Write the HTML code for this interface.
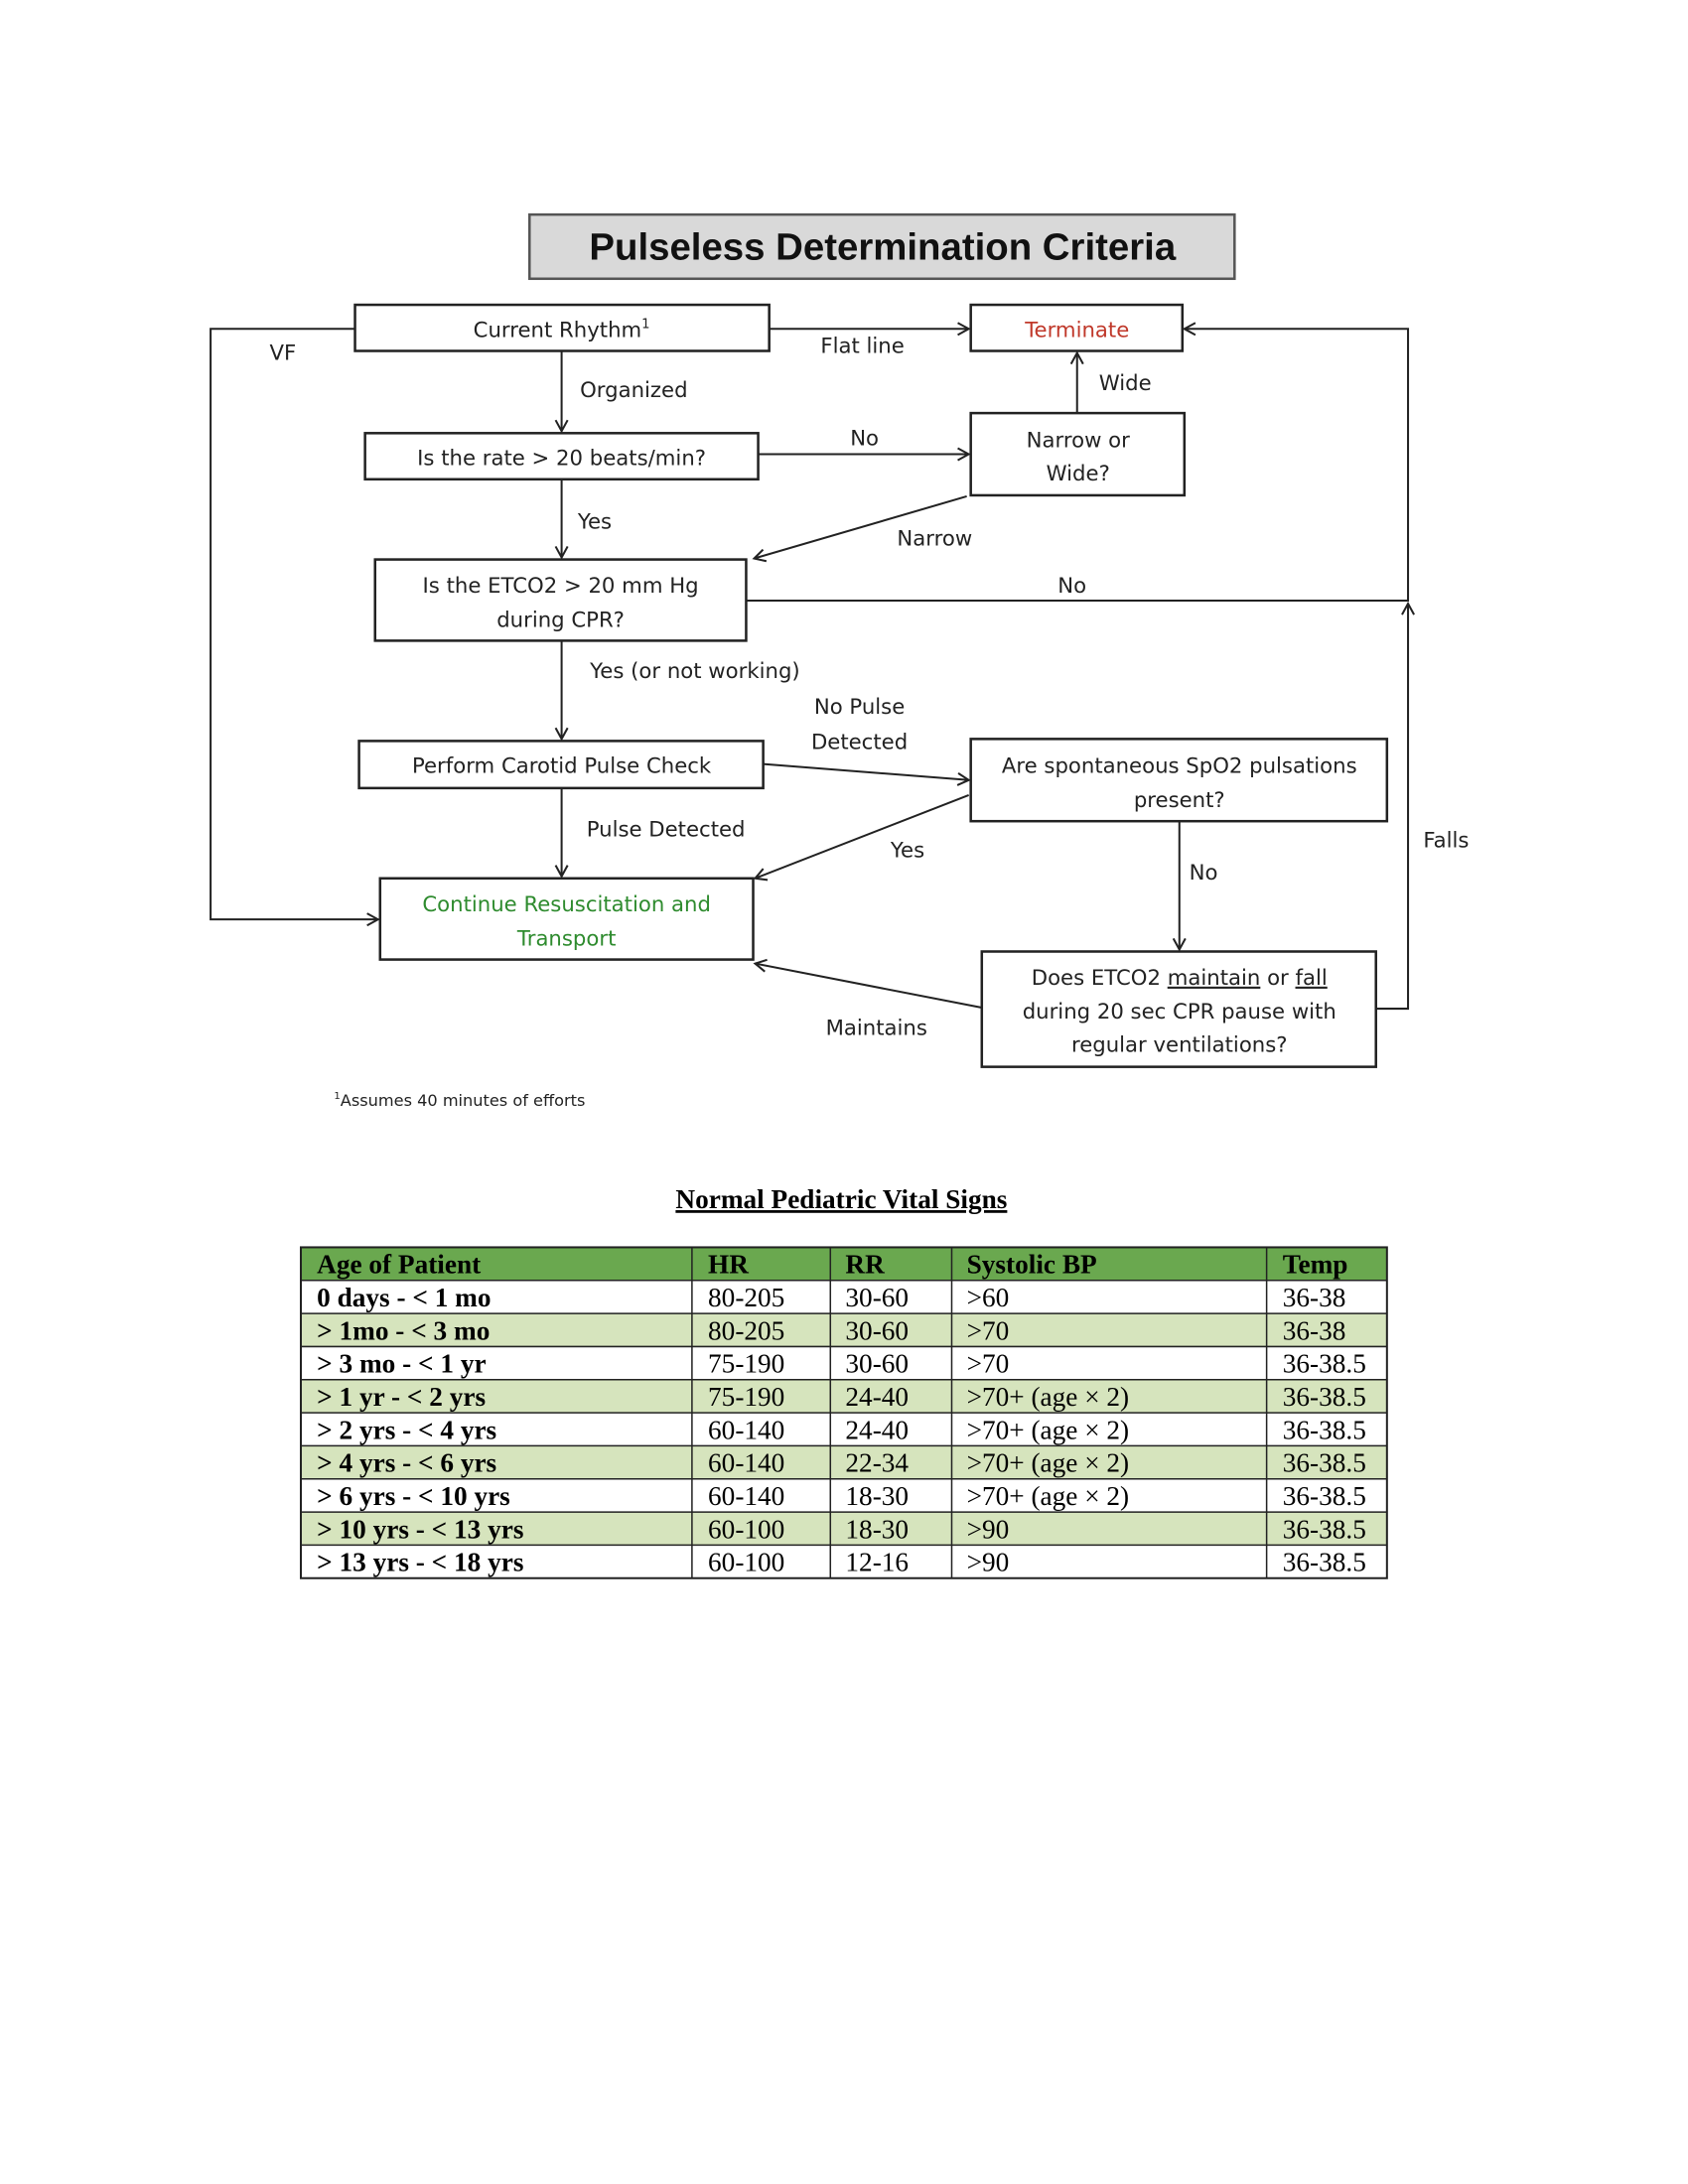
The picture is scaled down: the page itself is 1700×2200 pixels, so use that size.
<!DOCTYPE html>
<html><head><meta charset="utf-8"><style>
html,body{margin:0;padding:0;background:#fff;}
svg{display:block}
.f{font-family:"DejaVu Sans","Liberation Sans",sans-serif;font-size:21px;fill:#222;}
.t{font-family:"Liberation Serif",serif;font-size:27px;fill:#000;}
.tb{font-family:"Liberation Serif",serif;font-size:27px;font-weight:bold;fill:#000;}
</style></head><body>
<svg width="1700" height="2200" viewBox="0 0 1700 2200" xmlns="http://www.w3.org/2000/svg">
<defs>
<marker id="a" markerWidth="14" markerHeight="14" refX="12" refY="7" orient="auto" markerUnits="userSpaceOnUse">
<path d="M1,1 L12,7 L1,13" fill="none" stroke="#222" stroke-width="2"/>
</marker>
</defs>
<g transform="scale(1.01)">
<g stroke="#222" stroke-width="2.5" fill="none">
<rect x="528" y="214" width="703" height="64" fill="#d9d9d9" stroke="#555"/>
<rect x="354" y="304" width="413" height="46"/>
<rect x="968" y="304" width="211" height="46"/>
<rect x="364" y="432" width="392" height="46"/>
<rect x="968" y="412" width="213" height="82"/>
<rect x="374" y="558" width="370" height="81"/>
<rect x="358" y="739" width="403" height="47"/>
<rect x="968" y="737" width="415" height="82"/>
<rect x="379" y="876" width="372" height="81"/>
<rect x="979" y="949" width="393" height="115"/>
</g>
<g stroke="#222" stroke-width="2" fill="none">
<line x1="767" y1="328" x2="966" y2="328" marker-end="url(#a)"/>
<line x1="560" y1="350" x2="560" y2="430" marker-end="url(#a)"/>
<line x1="756" y1="453" x2="966" y2="453" marker-end="url(#a)"/>
<line x1="1074" y1="412" x2="1074" y2="352" marker-end="url(#a)"/>
<line x1="964" y1="495" x2="752" y2="557" marker-end="url(#a)"/>
<line x1="560" y1="478" x2="560" y2="556" marker-end="url(#a)"/>
<polyline points="744,599 1404,599 1404,328 1181,328" marker-end="url(#a)"/>
<line x1="560" y1="639" x2="560" y2="737" marker-end="url(#a)"/>
<line x1="761" y1="762" x2="966" y2="778" marker-end="url(#a)"/>
<line x1="966" y1="793" x2="753" y2="876" marker-end="url(#a)"/>
<line x1="560" y1="786" x2="560" y2="874" marker-end="url(#a)"/>
<line x1="1176" y1="819" x2="1176" y2="947" marker-end="url(#a)"/>
<line x1="979" y1="1005" x2="753" y2="961" marker-end="url(#a)"/>
<polyline points="1372,1006 1404,1006 1404,602" marker-end="url(#a)"/>
<polyline points="354,328 210,328 210,917 377,917" marker-end="url(#a)"/>
</g>
<text x="880" y="259" text-anchor="middle" font-family="Liberation Sans,sans-serif" font-weight="bold" font-size="38" fill="#111">Pulseless Determination Criteria</text>
<g class="f" text-anchor="middle">
<text x="560" y="336">Current Rhythm<tspan font-size="13" dy="-9">1</tspan></text>
<text x="1074" y="336" style="fill:#c0392b">Terminate</text>
<text x="560" y="464">Is the rate &gt; 20 beats/min?</text>
<text x="1075" y="446">Narrow or</text>
<text x="1075" y="479">Wide?</text>
<text x="559" y="591">Is the ETCO2 &gt; 20 mm Hg</text>
<text x="559" y="625">during CPR?</text>
<text x="560" y="771">Perform Carotid Pulse Check</text>
<text x="1176" y="771">Are spontaneous SpO2 pulsations</text>
<text x="1176" y="805">present?</text>
<text x="565" y="909" style="fill:#2e8b2e">Continue Resuscitation and</text>
<text x="565" y="943" style="fill:#2e8b2e">Transport</text>
<text x="1176" y="982">Does ETCO2 <tspan text-decoration="underline">maintain</tspan> or <tspan text-decoration="underline">fall</tspan></text>
<text x="1176" y="1016">during 20 sec CPR pause with</text>
<text x="1176" y="1049">regular ventilations?</text>
<text x="282" y="359">VF</text>
<text x="860" y="352">Flat line</text>
<text x="632" y="396">Organized</text>
<text x="1122" y="389">Wide</text>
<text x="862" y="444">No</text>
<text x="593" y="527">Yes</text>
<text x="932" y="544">Narrow</text>
<text x="1069" y="591">No</text>
<text x="693" y="676">Yes (or not working)</text>
<text x="857" y="712">No Pulse</text>
<text x="857" y="747">Detected</text>
<text x="664" y="834">Pulse Detected</text>
<text x="905" y="855">Yes</text>
<text x="1200" y="877">No</text>
<text x="1442" y="845">Falls</text>
<text x="874" y="1032">Maintains</text>
</g>
<text x="333" y="1103" font-family="DejaVu Sans,sans-serif" font-size="16" fill="#222"><tspan font-size="10" dy="-7">1</tspan><tspan dy="7">Assumes 40 minutes of efforts</tspan></text>
<text x="839" y="1205" text-anchor="middle" class="tb" text-decoration="underline">Normal Pediatric Vital Signs</text>
<g>
<rect x="300" y="1244" width="1083" height="33" fill="#6aa84f"/>
<rect x="300" y="1310" width="1083" height="33" fill="#d6e4bd"/>
<rect x="300" y="1376" width="1083" height="33" fill="#d6e4bd"/>
<rect x="300" y="1442" width="1083" height="33" fill="#d6e4bd"/>
<rect x="300" y="1508" width="1083" height="33" fill="#d6e4bd"/>
</g>
<g stroke="#222" stroke-width="1.5">
<rect x="300" y="1244" width="1083" height="330" fill="none" stroke-width="2"/>
<line x1="300" y1="1277" x2="1383" y2="1277"/><line x1="300" y1="1310" x2="1383" y2="1310"/>
<line x1="300" y1="1343" x2="1383" y2="1343"/><line x1="300" y1="1376" x2="1383" y2="1376"/>
<line x1="300" y1="1409" x2="1383" y2="1409"/><line x1="300" y1="1442" x2="1383" y2="1442"/>
<line x1="300" y1="1475" x2="1383" y2="1475"/><line x1="300" y1="1508" x2="1383" y2="1508"/>
<line x1="300" y1="1541" x2="1383" y2="1541"/>
<line x1="690" y1="1244" x2="690" y2="1574"/><line x1="828" y1="1244" x2="828" y2="1574"/>
<line x1="949" y1="1244" x2="949" y2="1574"/><line x1="1263" y1="1244" x2="1263" y2="1574"/>
</g>
<g>
<text class="tb" x="316" y="1270">Age of Patient</text><text class="tb" x="706" y="1270">HR</text><text class="tb" x="843" y="1270">RR</text><text class="tb" x="964" y="1270">Systolic BP</text><text class="tb" x="1279" y="1270">Temp</text>
<text class="tb" x="316" y="1303">0 days - &lt; 1 mo</text><text class="t" x="706" y="1303">80-205</text><text class="t" x="843" y="1303">30-60</text><text class="t" x="964" y="1303">&gt;60</text><text class="t" x="1279" y="1303">36-38</text>
<text class="tb" x="316" y="1336">&gt; 1mo - &lt; 3 mo</text><text class="t" x="706" y="1336">80-205</text><text class="t" x="843" y="1336">30-60</text><text class="t" x="964" y="1336">&gt;70</text><text class="t" x="1279" y="1336">36-38</text>
<text class="tb" x="316" y="1369">&gt; 3 mo - &lt; 1 yr</text><text class="t" x="706" y="1369">75-190</text><text class="t" x="843" y="1369">30-60</text><text class="t" x="964" y="1369">&gt;70</text><text class="t" x="1279" y="1369">36-38.5</text>
<text class="tb" x="316" y="1402">&gt; 1 yr - &lt; 2 yrs</text><text class="t" x="706" y="1402">75-190</text><text class="t" x="843" y="1402">24-40</text><text class="t" x="964" y="1402">&gt;70+ (age × 2)</text><text class="t" x="1279" y="1402">36-38.5</text>
<text class="tb" x="316" y="1435">&gt; 2 yrs - &lt; 4 yrs</text><text class="t" x="706" y="1435">60-140</text><text class="t" x="843" y="1435">24-40</text><text class="t" x="964" y="1435">&gt;70+ (age × 2)</text><text class="t" x="1279" y="1435">36-38.5</text>
<text class="tb" x="316" y="1468">&gt; 4 yrs - &lt; 6 yrs</text><text class="t" x="706" y="1468">60-140</text><text class="t" x="843" y="1468">22-34</text><text class="t" x="964" y="1468">&gt;70+ (age × 2)</text><text class="t" x="1279" y="1468">36-38.5</text>
<text class="tb" x="316" y="1501">&gt; 6 yrs - &lt; 10 yrs</text><text class="t" x="706" y="1501">60-140</text><text class="t" x="843" y="1501">18-30</text><text class="t" x="964" y="1501">&gt;70+ (age × 2)</text><text class="t" x="1279" y="1501">36-38.5</text>
<text class="tb" x="316" y="1534">&gt; 10 yrs - &lt; 13 yrs</text><text class="t" x="706" y="1534">60-100</text><text class="t" x="843" y="1534">18-30</text><text class="t" x="964" y="1534">&gt;90</text><text class="t" x="1279" y="1534">36-38.5</text>
<text class="tb" x="316" y="1567">&gt; 13 yrs - &lt; 18 yrs</text><text class="t" x="706" y="1567">60-100</text><text class="t" x="843" y="1567">12-16</text><text class="t" x="964" y="1567">&gt;90</text><text class="t" x="1279" y="1567">36-38.5</text>
</g>
</g>
</svg>
</body></html>
